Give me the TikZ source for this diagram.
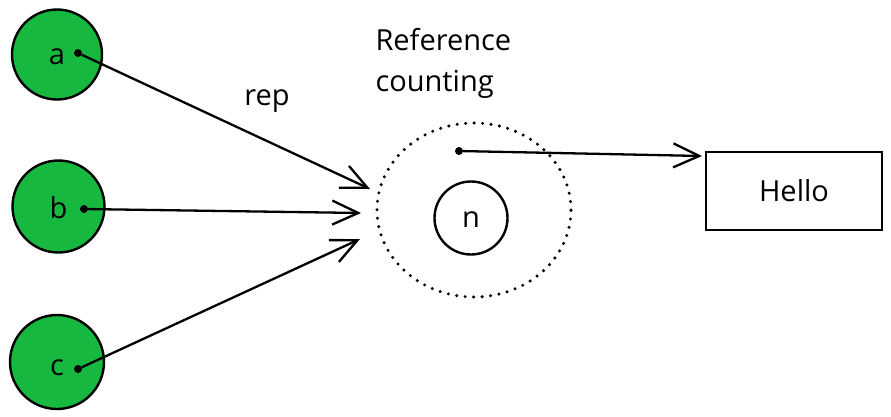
\documentclass[tikz,border=0pt]{standalone}
\usepackage{fontspec}
\setmainfont{Open Sans}
\usetikzlibrary{arrows.meta,shapes.geometric}
\definecolor{refgreen}{RGB}{22,184,64}

\begin{document}
\begin{tikzpicture}[x=1pt, y=-1pt,
		every node/.style={font=\fontsize{29}{41}\selectfont},
		cell/.style={circle, draw=black, fill=refgreen, line width=2.4pt, inner sep=0pt, text depth=0pt},
		dotpt/.style={circle, fill=black, inner sep=0pt, minimum size=8pt},
		ref/.style={line width=2.3pt, -{Straight Barb[length=26pt, width=24pt, line width=2.3pt]}}]
		%%%%% START %%%%%
		
		\useasboundingbox (0, 0) rectangle (891, 416);
		
		\node[cell, minimum size=90pt, text height=19pt] (a) at (57, 54.5) {a};
		\node[cell, minimum size=92pt, text height=23pt] (b) at (58.5, 206.5) {b};
		\node[cell, minimum size=94pt, text height=27pt] (c) at (57, 362) {c};
		
		\node[dotpt] (pa) at (78, 53) {};
		\node[dotpt] (pb) at (84, 209) {};
		\node[dotpt] (pc) at (78, 369) {};
		
		\coordinate (ea) at (370, 189);
		\coordinate (eb) at (361, 213);
		\coordinate (ec) at (360, 239);
		
		\draw[ref] (pa) -- (ea);
		\draw[ref] (pb) -- (eb);
		\draw[ref] (pc) -- (ec);
		
		\node (rep) at (267, 101) {rep};
		\node[align=left, anchor=north west] (title) at (372, 25) {Reference\\counting};
		
		\node[ellipse, draw, line width=3.4pt, line cap=round, dash pattern=on 0pt off 8.5pt,
			minimum width=194pt, minimum height=174pt] (count) at (474, 210) {};
		\node[circle, draw, line width=2.4pt, minimum size=73pt, inner sep=0pt, text height=18pt, text depth=0pt] (n) at (471, 218) {n};
		
		\node[dotpt] (pr) at (459, 151) {};
		\node[draw, line width=2.2pt, minimum width=176pt, minimum height=78pt] (hello) at (794, 191) {Hello};
		\coordinate (eh) at (702, 156);
		\draw[ref] (pr) -- (eh);
		
		%%%%% END %%%%%
	\end{tikzpicture}
\end{document}
